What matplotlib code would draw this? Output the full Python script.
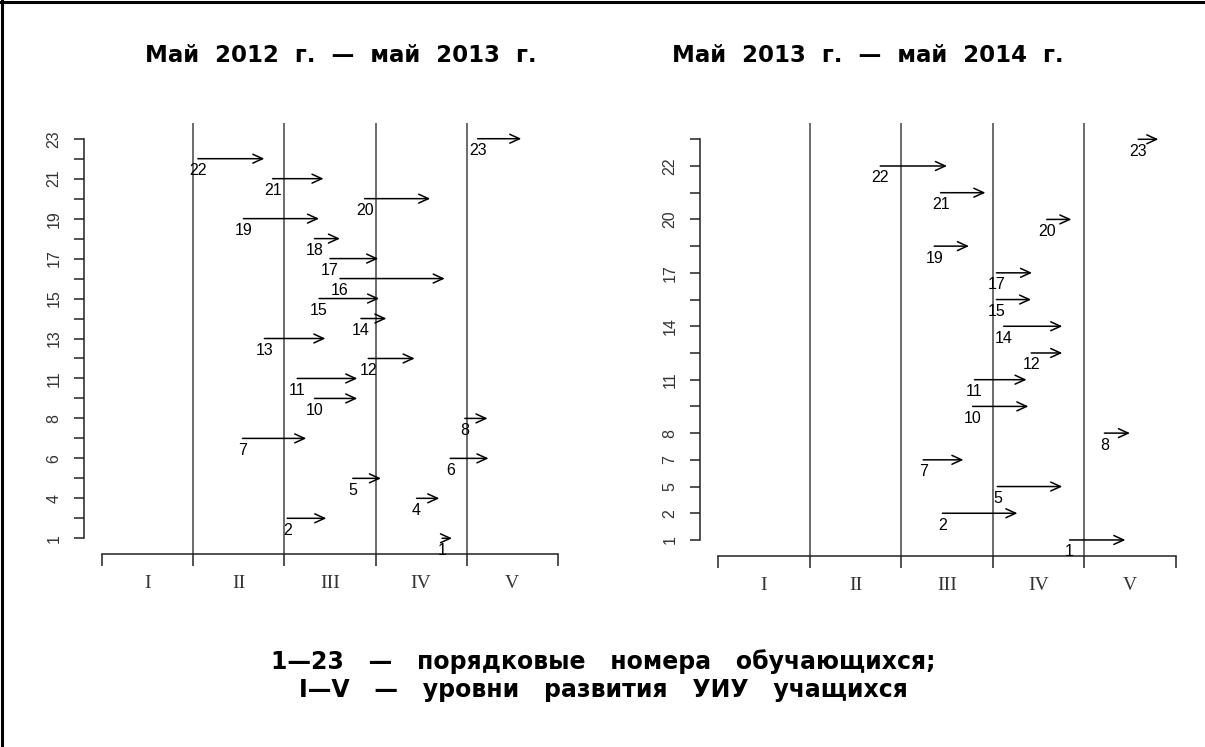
import matplotlib
matplotlib.use('Agg')
import matplotlib.pyplot as plt
from matplotlib.lines import Line2D

levels = ['I', 'II', 'III', 'IV', 'V']

left_title = 'Май  2012  г.  —  май  2013  г.'
left_students = [1, 2, 4, 5, 6, 7, 8, 10, 11, 12, 13, 14, 15, 16, 17, 18, 19, 20, 21, 22, 23]
left_start = [3.73, 2.03, 3.45, 2.75, 3.82, 1.54, 3.98, 2.33, 2.14, 2.92, 1.78,
              2.84, 2.38, 2.61, 2.50, 2.33, 1.55, 2.88, 1.87, 1.05, 4.12]
left_end = [3.84, 2.46, 3.70, 3.06, 4.24, 2.24, 4.23, 2.80, 2.80, 3.43, 2.45,
            3.12, 3.04, 3.76, 3.03, 2.61, 2.38, 3.60, 2.43, 1.78, 4.60]
left_tick_labels = ['1', '', '4', '', '6', '', '8', '', '11', '', '13', '', '15', '',
                    '17', '', '19', '', '21', '', '23']

right_title = 'Май  2013  г.  —  май  2014  г.'
right_students = [1, 2, 5, 7, 8, 10, 11, 12, 14, 15, 17, 19, 20, 21, 22, 23]
right_start = [3.84, 2.45, 3.05, 2.24, 4.22, 2.78, 2.80, 3.42, 3.12, 3.04, 3.04,
               2.36, 3.59, 2.43, 1.77, 4.59]
right_end = [4.45, 3.27, 3.76, 2.68, 4.50, 3.39, 3.37, 3.76, 3.76, 3.42, 3.43,
             2.74, 3.86, 2.92, 2.50, 4.81]
right_tick_labels = ['1', '2', '5', '7', '8', '', '11', '', '14', '', '17', '',
                     '20', '', '22', '']

caption_lines = ['1—23   —   порядковые   номера   обучающихся;',
                 'I—V   —   уровни   развития   УИУ   учащихся']

NUM_FONT = ['Liberation Sans Narrow', 'Liberation Sans', 'DejaVu Sans']
LEVEL_FONT = ['Liberation Serif', 'DejaVu Serif']
HEAD_FONT = ['DejaVu Sans']

fig = plt.figure(figsize=(12.05, 7.47), dpi=100)
fig.patch.set_facecolor('white')


def panel(ax, students, starts, ends, ticklabels):
    n = len(students)
    rows = list(range(1, n + 1))
    ext = 0.04 * (n - 1)
    ax.set_xlim(-0.2, 5.2)
    ax.set_ylim(1 - ext, n + ext)
    for x in range(1, 5):
        ax.axvline(x, color='#444444', lw=1.1, zorder=1)
    for r, s, e, lab in zip(rows, starts, ends, students):
        ax.annotate('', xy=(e, r), xytext=(s, r),
                    arrowprops=dict(arrowstyle='->,head_length=0.7,head_width=0.32',
                                    lw=1.1, color='black', shrinkA=0, shrinkB=0,
                                    mutation_scale=10), zorder=3)
        ax.annotate(str(lab), xy=(s, r), xytext=(0, -12), textcoords='offset pixels',
                    ha='center', va='center', fontsize=11.5, family=NUM_FONT,
                    color='black', zorder=4)
    for side in ('top', 'right'):
        ax.spines[side].set_visible(False)
    ax.spines['left'].set_bounds(1, n)
    ax.spines['bottom'].set_bounds(0, 5)
    for side in ('left', 'bottom'):
        ax.spines[side].set_linewidth(1.1)
        ax.spines[side].set_color('#222222')
    ax.set_xticks(range(6))
    ax.set_xticklabels([])
    ax.set_xticks([i + 0.5 for i in range(5)], minor=True)
    ax.set_xticklabels(levels, minor=True, family=LEVEL_FONT, fontsize=14,
                       color='#333333')
    ax.tick_params(axis='x', which='major', length=8.6, width=1.1, color='#222222')
    ax.tick_params(axis='x', which='minor', length=0, pad=15)
    ax.set_yticks(rows)
    ax.set_yticklabels(ticklabels, family=NUM_FONT, fontsize=11.5, color='#333333',
                       rotation=90, va='center')
    ax.tick_params(axis='y', length=7.2, width=1.1, color='#222222', pad=9)
    ax.set_facecolor('none')


ax1 = fig.add_axes([0.0697, 0.2580, 0.4083, 0.5777])
panel(ax1, left_students, left_start, left_end, left_tick_labels)
ax2 = fig.add_axes([0.5809, 0.2557, 0.4100, 0.5793])
panel(ax2, right_students, right_start, right_end, right_tick_labels)

fig.text(341 / 1205, 1 - 55 / 747, left_title, ha='center', va='center',
         fontsize=16.5, fontweight='bold', family=HEAD_FONT)
fig.text(868 / 1205, 1 - 55 / 747, right_title, ha='center', va='center',
         fontsize=16.5, fontweight='bold', family=HEAD_FONT)
fig.text(603 / 1205, 1 - 662 / 747, caption_lines[0], ha='center', va='center',
         fontsize=17, fontweight='bold', family=HEAD_FONT)
fig.text(603 / 1205, 1 - 690 / 747, caption_lines[1], ha='center', va='center',
         fontsize=17, fontweight='bold', family=HEAD_FONT)

fig.add_artist(Line2D([0, 1], [1 - 2 / 747, 1 - 2 / 747], transform=fig.transFigure,
                      color='black', lw=2.2))
fig.add_artist(Line2D([2 / 1205, 2 / 1205], [0, 1], transform=fig.transFigure,
                      color='black', lw=2.2))

fig.savefig('out.png', dpi=100, facecolor='white')
